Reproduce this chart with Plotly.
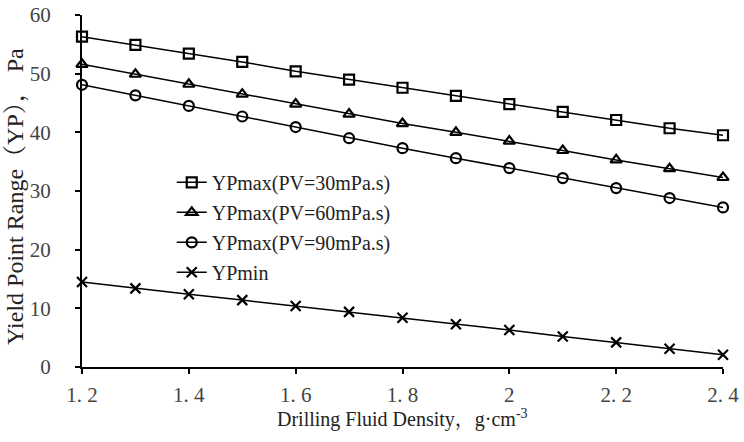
import plotly.graph_objects as go

density = [1.2, 1.3, 1.4, 1.5, 1.6, 1.7, 1.8, 1.9, 2.0, 2.1, 2.2, 2.3, 2.4]
yp_pv30 = [56.3, 54.9, 53.4, 52.0, 50.4, 49.0, 47.6, 46.2, 44.8, 43.5, 42.1, 40.7, 39.5]
yp_pv60 = [51.6, 49.9, 48.2, 46.5, 44.8, 43.1, 41.5, 40.0, 38.5, 36.9, 35.3, 33.8, 32.3]
yp_pv90 = [48.1, 46.3, 44.5, 42.7, 40.9, 39.0, 37.3, 35.6, 33.9, 32.2, 30.5, 28.8, 27.2]
yp_min = [14.5, 13.4, 12.4, 11.4, 10.4, 9.4, 8.4, 7.3, 6.3, 5.2, 4.2, 3.1, 2.1]

x_tickvals = [1.2, 1.4, 1.6, 1.8, 2.0, 2.2, 2.4]
x_ticktext = ["1. 2", "1. 4", "1. 6", "1. 8", "2", "2. 2", "2. 4"]
y_tickvals = [0, 10, 20, 30, 40, 50, 60]

x_title = "Drilling Fluid Density，g·cm<sup>-3</sup>"
y_title = "Yield Point Range（YP）， Pa"

series = [
    ("YPmax(PV=30mPa.s)", yp_pv30, "square-open"),
    ("YPmax(PV=60mPa.s)", yp_pv60, "triangle-up-open"),
    ("YPmax(PV=90mPa.s)", yp_pv90, "circle-open"),
    ("YPmin", yp_min, "x-thin-open"),
]

fig = go.Figure()
for i, (name, vals, sym) in enumerate(series):
    fig.add_trace(go.Scatter(
        x=density, y=vals, name=name, mode="lines+markers",
        legendgroup="g%d" % i,
        line=dict(color="black", width=1.5),
        marker=dict(symbol=sym, size=10, color="black",
                    line=dict(color="black", width=2.2)),
        cliponaxis=False,
    ))

font_family = "Liberation Serif, Noto Serif CJK SC, Noto Sans CJK SC, serif"
fig.update_layout(
    width=744, height=442,
    margin=dict(l=82, r=21, t=15, b=75, autoexpand=False),
    paper_bgcolor="white", plot_bgcolor="white",
    font=dict(family=font_family, size=20, color="#222"),
    showlegend=True,
    legend=dict(x=0.14, y=0.58, xanchor="left", yanchor="top",
                bgcolor="rgba(0,0,0,0)", font=dict(size=20, family=font_family, color="#222"),
                tracegroupgap=1, itemwidth=30),
    xaxis=dict(
        range=[1.2, 2.4], tickvals=x_tickvals, ticktext=x_ticktext,
        automargin=False,
        showgrid=False, zeroline=False, showline=True, linecolor="black", linewidth=2,
        ticks="outside", ticklen=5, tickwidth=2, tickcolor="black",
        ticklabelstandoff=3,
        tickfont=dict(size=21, family=font_family, color="#444"),
    ),
    yaxis=dict(
        range=[0, 60], tickvals=y_tickvals,
        automargin=False,
        showgrid=False, zeroline=False, showline=True, linecolor="black", linewidth=2,
        ticks="outside", ticklen=5, tickwidth=2, tickcolor="black",
        ticklabelstandoff=20,
        tickfont=dict(size=21, family=font_family, color="#444"),
    ),
    annotations=[
        dict(text=x_title, xref="paper", yref="paper", x=0.5, y=-0.145,
             xanchor="center", yanchor="middle", showarrow=False,
             font=dict(size=20, family=font_family, color="#222")),
        dict(text=y_title, xref="paper", yref="paper", x=-0.103, y=0.486,
             xanchor="center", yanchor="middle", textangle=-90, showarrow=False,
             font=dict(size=24, family=font_family, color="#222")),
    ],
)

fig.write_html("out.html", config={"displayModeBar": False},
               post_script="document.body.style.margin='0px';")
